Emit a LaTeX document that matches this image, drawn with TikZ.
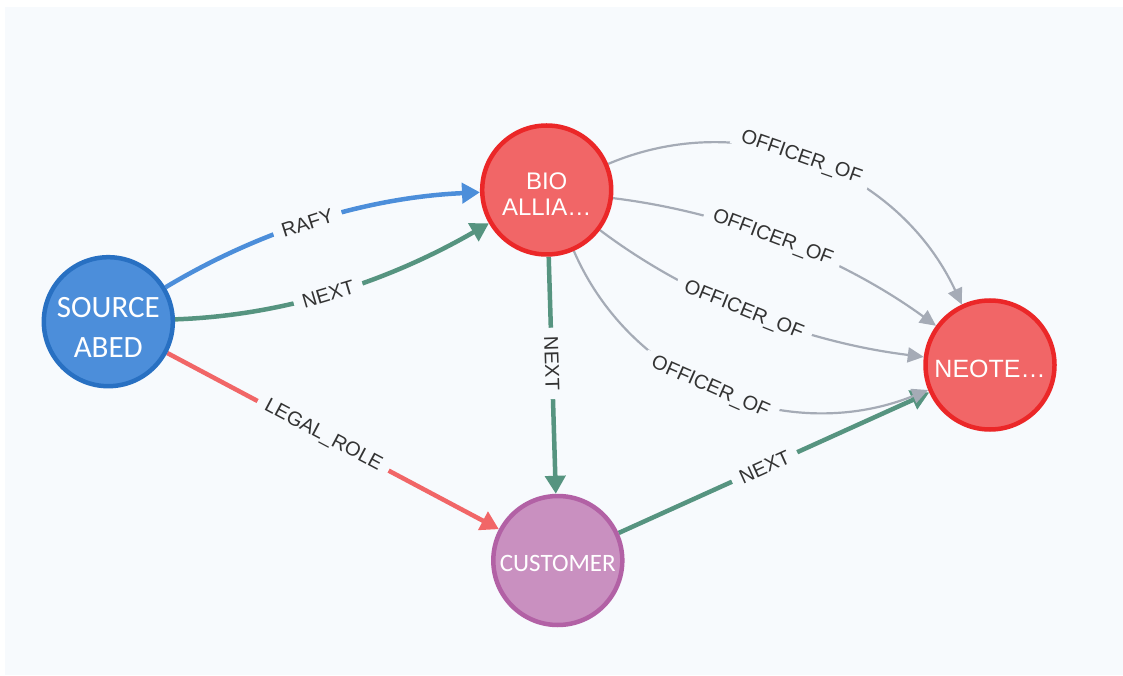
\documentclass[tikz,border=0pt]{standalone}
\usepackage{fontspec}
\setmainfont{Liberation Sans}
\newfontfamily\captionfont{Carlito}
\usetikzlibrary{arrows.meta,backgrounds}

\definecolor{canvas}{HTML}{F7FAFD}
\definecolor{blueFill}{HTML}{4C8EDA}
\definecolor{blueLine}{HTML}{2870C2}
\definecolor{redFill}{HTML}{F16667}
\definecolor{redLine}{HTML}{EB2728}
\definecolor{purpleFill}{HTML}{C990C0}
\definecolor{purpleLine}{HTML}{B261A5}
\definecolor{greenEdge}{HTML}{569480}
\definecolor{grayEdge}{HTML}{A5ABB6}
\definecolor{labelText}{HTML}{333333}

\begin{document}
\begin{tikzpicture}[x=1pt,y=1pt,
  entity/.style={circle, minimum size=129pt, inner sep=0pt, line width=4.5pt,
    text=white, align=center},
  rel/.style={line width=4.5pt, -{Triangle[length=18pt,width=20pt]}},
  officer/.style={line width=2.2pt, draw=grayEdge,
    -{Triangle[length=16pt,width=15pt]}},
  lbl/.style={pos=0.47, sloped, fill=canvas, inner xsep=9pt, inner ysep=1pt,
    text=labelText, font=\fontsize{20}{24}\selectfont}]

\useasboundingbox (0,0) rectangle (1123,675);
\begin{scope}[on background layer]
  \fill[canvas] (5,0) rectangle (1123,668);
\end{scope}

% entities
\node[entity, fill=blueFill, draw=blueLine,
      font=\captionfont\fontsize{31}{40}\selectfont]
  (src) at (108.3,353.3) {\rule{0pt}{32pt}SOURCE\\ABED};
\node[entity, fill=redFill, draw=redLine, font=\fontsize{24}{26}\selectfont]
  (bio) at (546.7,485) {\rule{0pt}{25pt}BIO\\ALLIA…};
\node[entity, fill=redFill, draw=redLine, font=\fontsize{25}{30}\selectfont]
  (neo) at (990,310) {\rule{0pt}{26pt}NEOTE…};
\node[entity, fill=purpleFill, draw=purpleLine,
      font=\captionfont\fontsize{25}{30}\selectfont]
  (cust) at (557.8,114.5) {\rule{0pt}{22pt}CUSTOMER};

% relationships
\begin{scope}[on background layer]
  \draw[rel, draw=blueFill] (src.31) to[out=31, in=182.6, looseness=0.88]
    node[lbl] (lRafy) {RAFY} (bio.182.6);
  \draw[rel, draw=greenEdge] (src.2) to[out=2, in=210, looseness=0.88]
    node[lbl] (lNextA) {NEXT} (bio.210);
  \draw[rel, draw=redFill] (src) -- node[lbl] (lLegal) {LEGAL\_ROLE} (cust);
  \draw[rel, draw=greenEdge] (bio) -- node[lbl, pos=0.45] (lNextB) {NEXT} (cust);
  \draw[rel, draw=greenEdge] (cust) -- node[lbl] (lNextC) {NEXT} (neo);

  \draw[officer] (bio.23) to[out=23, in=115]
    node[lbl] (lOffA) {OFFICER\_OF} (neo.115);
  \draw[officer] (bio.-7) to[out=-7, in=144, looseness=0.86]
    node[lbl] (lOffB) {OFFICER\_OF} (neo.144);
  \draw[officer] (bio.-37) to[out=-37, in=173, looseness=0.86]
    node[lbl] (lOffC) {OFFICER\_OF} (neo.173);
  \draw[officer] (bio.-66.5) to[out=-66.5, in=202]
    node[lbl] (lOffD) {OFFICER\_OF} (neo.202);
\end{scope}
\end{tikzpicture}
\end{document}
